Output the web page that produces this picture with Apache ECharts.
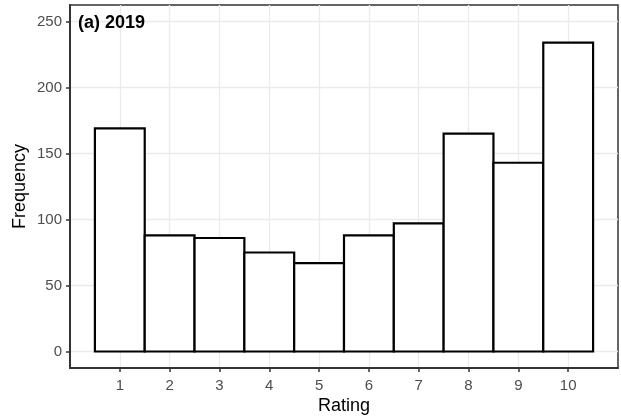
<!DOCTYPE html>
<html>
<head>
<meta charset="utf-8">
<script src="https://cdn.jsdelivr.net/npm/echarts@6/dist/echarts.min.js"></script>
<style>
  html, body { margin: 0; padding: 0; background: #fff; }
  #chart { width: 621px; height: 417px; }
</style>
</head>
<body>
<div id="chart"></div>
<script>
// histogram counts
const ratings = [1, 2, 3, 4, 5, 6, 7, 8, 9, 10];
const frequency = [169, 88, 86, 75, 67, 88, 97, 165, 143, 234];
const yTicks = [0, 50, 100, 150, 200, 250];
const panelTitle = "(a) 2019";

const font = "Liberation Sans, Arial, sans-serif";
const chart = echarts.init(document.getElementById("chart"), null, { renderer: "canvas" });

chart.setOption({
  backgroundColor: "#fff",
  animation: false,
  title: {
    text: panelTitle,
    left: 78,
    top: 14,
    padding: 0,
    textStyle: { fontFamily: font, fontSize: 18, fontWeight: "bold", color: "#000" }
  },
  grid: {
    left: 70, top: 5, width: 548, height: 363,
    outerBoundsMode: "none",
    containLabel: false,
    show: true, borderColor: "#333", borderWidth: 1.5, backgroundColor: "#fff"
  },
  xAxis: {
    type: "value",
    min: 0,
    max: 11,
    name: "Rating",
    nameLocation: "middle",
    nameGap: 29,
    nameMoveOverlap: false,
    nameTextStyle: { fontFamily: font, fontSize: 18, color: "#000" },
    axisLine: { show: true, onZero: false, lineStyle: { color: "#333", width: 2 } },
    axisTick: { show: true, length: 4, customValues: ratings, lineStyle: { color: "#333", width: 1.5 } },
    axisLabel: { customValues: ratings, margin: 10, fontFamily: font, fontSize: 15, color: "#4d4d4d" },
    splitLine: { show: true, lineStyle: { color: "#ebebeb", width: 1.3 } }
  },
  yAxis: {
    type: "value",
    min: -12.5,
    max: 262.5,
    name: "Frequency",
    nameLocation: "middle",
    nameGap: 41,
    nameMoveOverlap: false,
    nameTextStyle: { fontFamily: font, fontSize: 18, color: "#000" },
    axisLine: { show: true, onZero: false, lineStyle: { color: "#333", width: 2 } },
    axisTick: { show: true, length: 4, customValues: yTicks, lineStyle: { color: "#333", width: 1.5 } },
    axisLabel: { customValues: yTicks, margin: 8, fontFamily: font, fontSize: 15, color: "#4d4d4d" },
    splitLine: { show: true, lineStyle: { color: "#ebebeb", width: 1.3 } }
  },
  series: [{
    type: "custom",
    data: ratings.map((r, i) => [r, frequency[i]]),
    renderItem: function (params, api) {
      const x = api.value(0);
      const y = api.value(1);
      const p0 = api.coord([x - 0.5, 0]);
      const p1 = api.coord([x + 0.5, y]);
      return {
        type: "rect",
        shape: { x: p0[0], y: p1[1], width: p1[0] - p0[0], height: p0[1] - p1[1] },
        style: { fill: "#fff", stroke: "#000", lineWidth: 2.2 }
      };
    }
  }]
});
</script>
</body>
</html>
